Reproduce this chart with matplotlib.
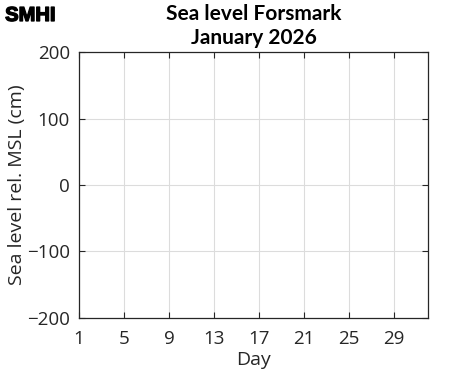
import matplotlib
matplotlib.use('Agg')
import matplotlib.pyplot as plt
import matplotlib.patheffects as pe

# no observations in the picture: the series is empty
days = []
sea_level = []

day_ticks = [1, 5, 9, 13, 17, 21, 25, 29]
level_ticks = [-200, -100, 0, 100, 200]

plt.rcParams['font.family'] = ['Open Sans', 'DejaVu Sans']

fig = plt.figure(figsize=(4.71, 3.71), dpi=100)
ax = fig.add_axes([0.1677, 0.1429, 0.7410, 0.7169])

ax.plot(days, sea_level, color='tab:blue')
ax.set_xlim(1, 32)
ax.set_ylim(-200, 200)
ax.set_xticks(day_ticks)
ax.set_yticks(level_ticks)
ax.set_yticklabels([str(v).replace('-', '\u2212') for v in level_ticks])
ax.grid(True, color='#dcdcdc', linewidth=0.8)
ax.tick_params(direction='in', top=True, right=True, labelsize=13.5, colors='#262626',
               length=4, width=0.8)
ax.tick_params(axis='x', pad=8.5)
ax.tick_params(axis='y', pad=6.5)
for sp in ax.spines.values():
    sp.set_color('#262626')
    sp.set_linewidth(0.9)

ax.set_xlabel('Day', fontsize=14, color='#262626', labelpad=2)
ax.set_ylabel('Sea level rel. MSL (cm)', fontsize=14, color='#262626', labelpad=1)
ax.set_title('Sea level Forsmark\nJanuary 2026', fontsize=15, fontweight='bold',
             linespacing=1.2, pad=6, family=['Lato', 'DejaVu Sans'])

fig.text(0.011, 0.984, 'SMHI', fontsize=14.5, fontweight='bold', va='top', ha='left',
         family=['Liberation Sans', 'DejaVu Sans'],
         path_effects=[pe.withStroke(linewidth=1.0, foreground='black')])

fig.savefig('out.png', dpi=100)
